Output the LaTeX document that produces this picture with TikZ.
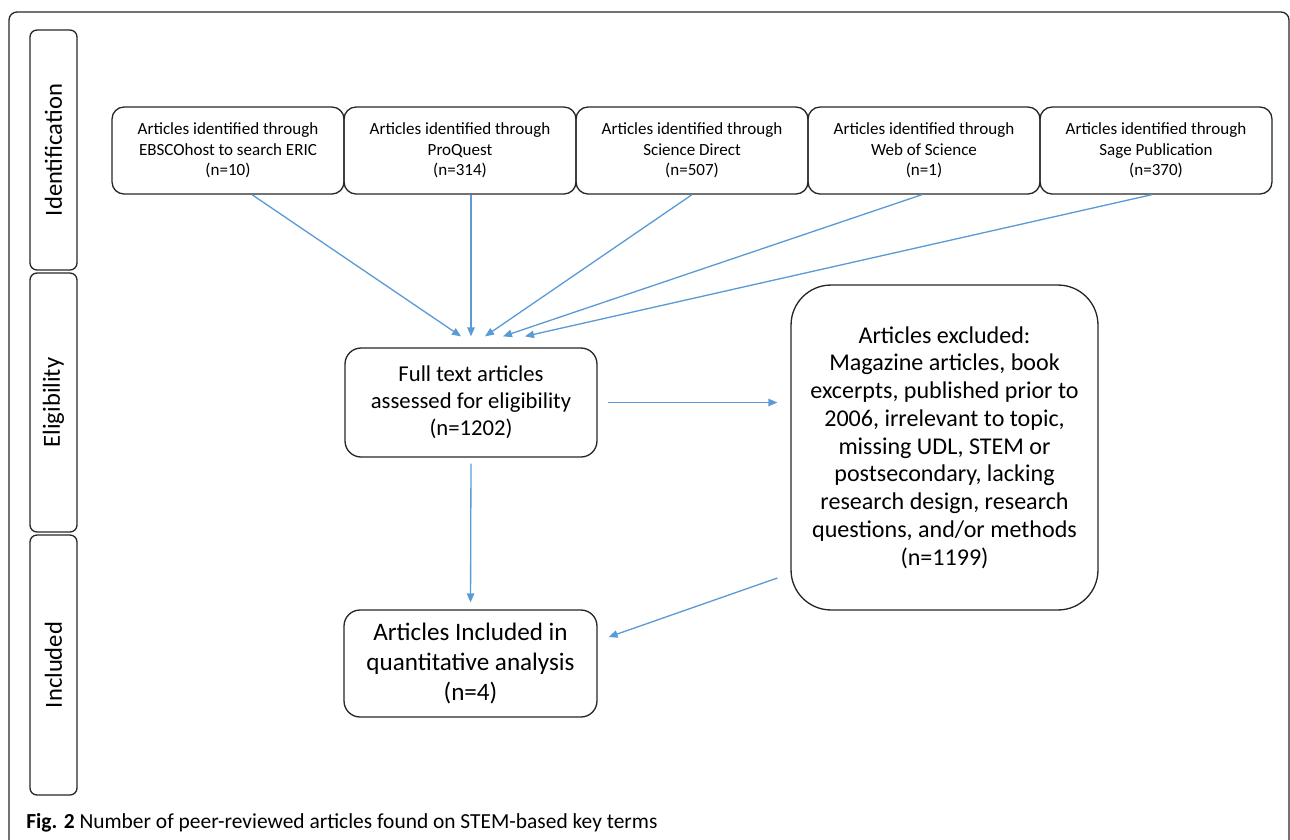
\documentclass[tikz,border=0pt]{standalone}
\usepackage{fontspec}
\setmainfont{Carlito}
\usetikzlibrary{arrows.meta,calc,positioning}
\definecolor{flowblue}{RGB}{91,155,213}
\tikzset{
    prisma phase/.style={
        draw=black!85,
        line width=0.75pt,
        rounded corners=0.14cm,
        rotate=90,
        minimum height=0.94cm,
        inner sep=0pt,
        font=\fontsize{14}{16}\selectfont
    },
    prisma source/.style={
        draw=black!85,
        line width=0.75pt,
        rounded corners=0.24cm,
        minimum width=4.64cm,
        minimum height=1.74cm,
        inner sep=0pt,
        align=center,
        font=\fontsize{9.7}{11.7}\selectfont
    },
    prisma box/.style={
        draw=black!85,
        line width=0.75pt,
        rounded corners=0.32cm,
        inner sep=0pt,
        align=center
    },
    prisma arrow/.style={-{Triangle[length=1.8mm,width=1.5mm]}, flowblue, line width=0.75pt}
}

\begin{document}
\begin{tikzpicture}[x=0.02cm,y=-0.02cm]
    \useasboundingbox (0,0) rectangle (1290,839);

    % outer frame
    \draw[black!85, line width=0.75pt, rounded corners=0.16cm]
        (9,845) -- (9,12) -- (1289,12) -- (1289,845);

    % phases
    \node[prisma phase, minimum width=4.8cm] (idf) at (53.5,150) {Identification};
    \node[prisma phase, minimum width=5.18cm] (elg) at (53.5,402.5) {Eligibility};
    \node[prisma phase, minimum width=5.2cm] (inc) at (53.5,665) {Included};

    % sources
    \node[prisma source] (s1) at (228,150.5) {Articles identified through\\EBSCOhost to search ERIC\\(n=10)};
    \node[prisma source] (s2) at (460,150.5) {Articles identified through\\ProQuest\\(n=314)};
    \node[prisma source] (s3) at (692,150.5) {Articles identified through\\Science Direct\\(n=507)};
    \node[prisma source] (s4) at (924,150.5) {Articles identified through\\Web of Science\\(n=1)};
    \node[prisma source] (s5) at (1156,150.5) {Articles identified through\\Sage Publication\\(n=370)};

    \node[prisma box, minimum width=5.04cm, minimum height=2.18cm,
        font=\fontsize{12.9}{15.4}\selectfont] (full) at (471,402.5)
        {Full text articles\\assessed for eligibility\\(n=1202)};

    \node[prisma box, rounded corners=0.8cm, minimum width=6.14cm, minimum height=6.5cm,
        font=\fontsize{13.7}{15.8}\selectfont] (excl) at (944.5,447.5)
        {Articles excluded:\\Magazine articles, book\\excerpts, published prior to\\2006, irrelevant to topic,\\missing UDL, STEM or\\postsecondary, lacking\\research design, research\\questions, and/or methods\\(n=1199)};

    \node[prisma box, minimum width=5.06cm, minimum height=2.14cm,
        font=\fontsize{14.3}{17.1}\selectfont] (incl) at (470.5,663.5)
        {Articles Included in\\quantitative analysis\\(n=4)};

    % arrows into screening
    \foreach \s/\dx/\tx in {s1/24/-10, s2/11/0, s3/0/14, s4/-2/32, s5/-4/54} {
        \draw[prisma arrow] ($(\s.south)+(\dx,0)$) -- ($(full.north)+(\tx,-11)$);
    }

    \draw[prisma arrow, shorten <=0.2cm, shorten >=0.26cm] (full.east) -- (full.east -| excl.west);
    \draw[prisma arrow, shorten <=0.12cm, shorten >=0.14cm] (full.south) -- (incl.north);
    \draw[prisma arrow] ($(excl.west)+(-13,130.5)$) -- ($(incl.east)+(11,-26.5)$);

    % caption
    \node[anchor=base west, inner sep=0pt, font=\fontsize{12.2}{14}\selectfont] (cap) at (26,828)
        {\textbf{Fig. 2} Number of peer-reviewed articles found on STEM-based key terms};
\end{tikzpicture}
\end{document}
